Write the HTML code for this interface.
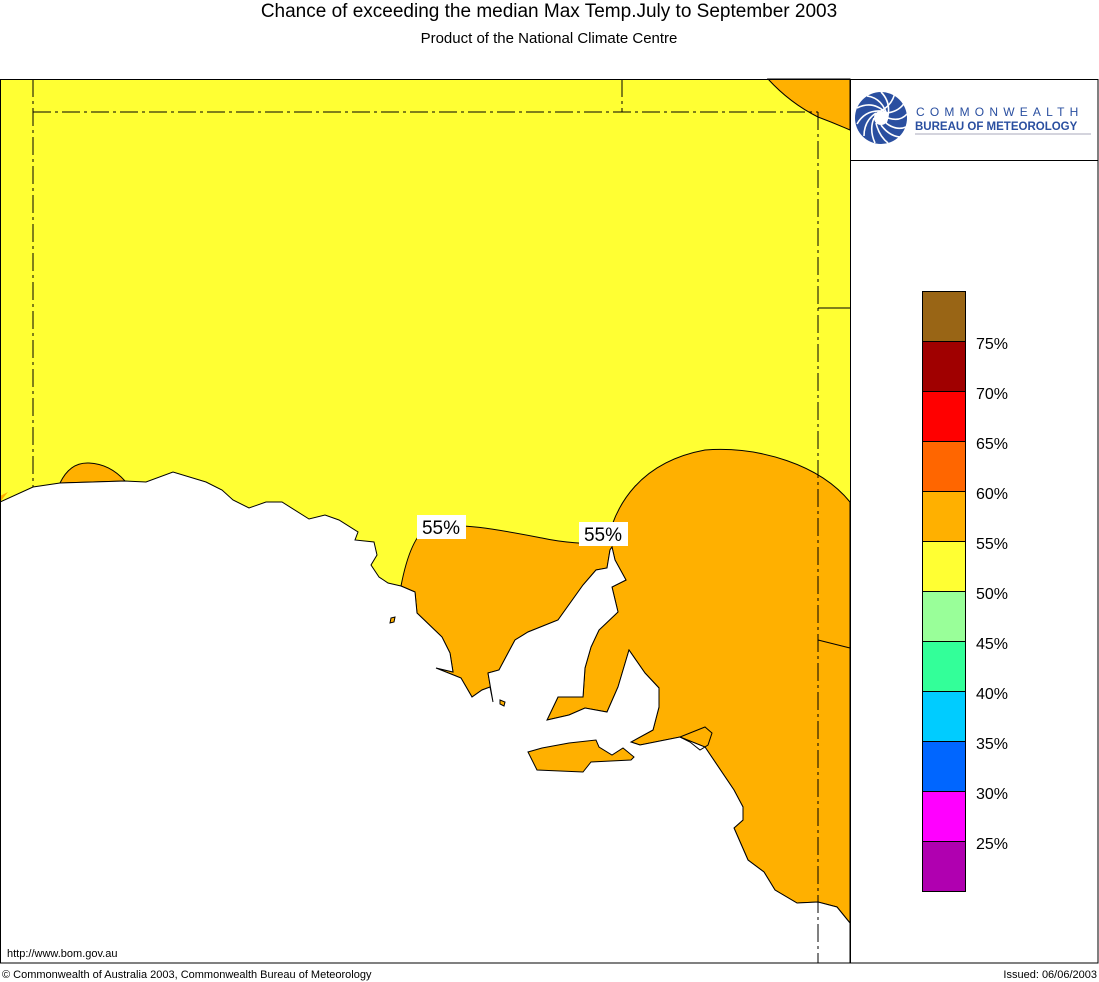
<!DOCTYPE html>
<html><head><meta charset="utf-8"><style>
html,body{margin:0;padding:0;background:#fff;}
svg{display:block;}
text{font-family:"Liberation Sans",sans-serif;}
</style></head><body>
<svg width="1099" height="982" viewBox="0 0 1099 982" xmlns="http://www.w3.org/2000/svg">
<rect width="1099" height="982" fill="#fff"/>
<text x="549" y="17" font-size="19" text-anchor="middle">Chance of exceeding the median Max Temp.July to September 2003</text>
<text x="549" y="43" font-size="15" text-anchor="middle">Product of the National Climate Centre</text>
<!-- map -->
<rect x="0" y="79" width="850" height="884" fill="#ffff33"/>
<path d="M768,79 Q790,103 818,117 Q834,123 850,130 L850,79Z" fill="#ffb000" stroke="#000" stroke-width="1"/>
<path d="M60,483 Q70,462 89,463 Q110,464 125,481Z" fill="#ffb000" stroke="#000" stroke-width="1"/>
<path d="M0,496 L8,492 L0,502Z" fill="#ffb000"/>
<path d="M401,586 C406,560 414,535 428,527 C460,522 500,530 542,538 C560,542 590,545 607,543 C615,505 640,462 705,450 C760,446 820,465 850,502 L850,923 L837,907 L818,902 L797,903 L775,890 L764,872 L748,860 L734,828 L743,820 L743,807 L734,790 L705,747 L680,737 L640,745 L631,742 L653,730 L659,707 L659,688 L645,673 L629,650 L618,687 L607,712 L585,708 L569,715 L547,720 L558,697 L583,697 L585,668 L591,647 L599,630 L618,612 L612,587 L626,580 L615,560 L612,547 L610,550 L607,568 L596,570 L583,585 L558,620 L528,632 L515,640 L499,670 L488,673 L493,702 L490,687 L482,690 L472,697 L461,678 L436,668 L453,672 L450,653 L442,637 L417,613 L415,592Z" fill="#ffb000" stroke="#000" stroke-width="1"/>
<!-- sea -->
<path d="M0,502 L33,487 L60,483 L125,481 L146,482 L173,472 L206,482 L222,490 L233,500 L249,508 L266,502 L282,502 L309,519 L325,515 L339,520 L358,532 L355,540 L374,542 L377,555 L371,565 L379,577 L388,583 L401,586 L415,592 L417,613 L442,637 L450,653 L453,672 L436,668 L461,678 L472,697 L482,690 L490,687 L493,702 L488,673 L499,670 L515,640 L528,632 L558,620 L583,585 L596,570 L607,568 L610,550 L612,547 L615,560 L626,580 L612,587 L618,612 L599,630 L591,647 L585,668 L583,697 L558,697 L547,720 L569,715 L585,708 L607,712 L618,687 L629,650 L645,673 L659,688 L659,707 L653,730 L631,742 L640,745 L680,737 L705,747 L734,790 L743,807 L743,820 L734,828 L748,860 L764,872 L775,890 L797,903 L818,902 L837,907 L850,923 L850,963 L0,963Z" fill="#fff" stroke="#000" stroke-width="1"/>
<path d="M528,752 L537,770 L583,772 L591,762 L631,760 L634,757 L623,748 L612,755 L599,747 L596,740 L569,743 L542,748Z" fill="#ffb000" stroke="#000" stroke-width="1"/>
<path d="M391,618 L395,617 L394,622 L390,623Z" fill="#ffb000" stroke="#000" stroke-width="1"/>
<path d="M500,700 L505,702 L504,706 L500,704Z" fill="#ffb000" stroke="#000" stroke-width="1"/>
<path d="M680,737 L705,727 L712,733 L708,745 L700,750 L690,742Z" fill="none" stroke="#000" stroke-width="1"/>
<!-- boundaries -->
<g stroke="#000" stroke-width="1" fill="none" stroke-dasharray="18,4,3,4">
<path d="M33,79 L33,487"/>
<path d="M33,112 L818,112"/>
<path d="M622,79 L622,112"/>
<path d="M818,112 L818,963"/>
</g>
<path d="M818,308 L850,308 M818,640 L850,648" stroke="#000" stroke-width="1"/>
<rect x="417" y="515" width="49" height="24" fill="#fff"/>
<text x="441" y="534" font-size="19" text-anchor="middle">55%</text>
<rect x="579" y="522" width="49" height="24" fill="#fff"/>
<text x="603" y="541" font-size="19" text-anchor="middle">55%</text>
<text x="7" y="957" font-size="11">http://www.bom.gov.au</text>
<rect x="0.5" y="79.5" width="1097.5" height="883.5" fill="none" stroke="#000"/>
<line x1="850.5" y1="79" x2="850.5" y2="963" stroke="#000"/>
<line x1="850" y1="160.5" x2="1098" y2="160.5" stroke="#000"/>
<!-- logo -->
<g transform="translate(881,118)">
<circle r="26" fill="#2a4fa0"/>
<g stroke="#fff" stroke-width="1.6" fill="none">
<path d="M0,-7 Q12,-14 14,-26"/><path d="M5,-5 Q18,-6 24,-16"/><path d="M7,0 Q19,4 26,-4"/>
<path d="M5,5 Q15,13 25,9"/><path d="M0,7 Q8,18 19,19"/><path d="M-5,5 Q-2,18 7,25"/>
<path d="M-7,0 Q-12,12 -6,25"/><path d="M-5,-5 Q-17,3 -17,18"/><path d="M0,-7 Q-16,-8 -24,6"/>
<path d="M5,-5 Q-8,-18 -24,-10"/><path d="M7,0 Q2,-20 -14,-22"/><path d="M5,5 Q12,-14 0,-26"/>
</g>
<circle r="7" fill="#fff"/>
</g>
<text x="916" y="116" font-size="12" fill="#2a4fa0" letter-spacing="5.2">COMMONWEALTH</text>
<text x="915" y="130" font-size="11.5" font-weight="bold" fill="#2a4fa0">BUREAU OF METEOROLOGY</text>
<line x1="915" y1="134" x2="1091" y2="134" stroke="#aab" stroke-width="1"/>
<!-- legend -->
<g stroke="#000" stroke-width="1">
<rect x="922.5" y="291.5" width="43" height="50" fill="#996515"/>
<rect x="922.5" y="341.5" width="43" height="50" fill="#a00000"/>
<rect x="922.5" y="391.5" width="43" height="50" fill="#ff0000"/>
<rect x="922.5" y="441.5" width="43" height="50" fill="#ff6600"/>
<rect x="922.5" y="491.5" width="43" height="50" fill="#ffb000"/>
<rect x="922.5" y="541.5" width="43" height="50" fill="#ffff33"/>
<rect x="922.5" y="591.5" width="43" height="50" fill="#99ff99"/>
<rect x="922.5" y="641.5" width="43" height="50" fill="#33ff99"/>
<rect x="922.5" y="691.5" width="43" height="50" fill="#00ccff"/>
<rect x="922.5" y="741.5" width="43" height="50" fill="#0066ff"/>
<rect x="922.5" y="791.5" width="43" height="50" fill="#ff00ff"/>
<rect x="922.5" y="841.5" width="43" height="50" fill="#b000b0"/>
</g>
<g font-size="16">
<text x="976" y="349">75%</text><text x="976" y="399">70%</text><text x="976" y="449">65%</text>
<text x="976" y="499">60%</text><text x="976" y="549">55%</text><text x="976" y="599">50%</text>
<text x="976" y="649">45%</text><text x="976" y="699">40%</text><text x="976" y="749">35%</text>
<text x="976" y="799">30%</text><text x="976" y="849">25%</text>
</g>
<text x="2" y="978" font-size="11">© Commonwealth of Australia 2003, Commonwealth Bureau of Meteorology</text>
<text x="1097" y="978" font-size="11" text-anchor="end">Issued: 06/06/2003</text>
</svg>
</body></html>
